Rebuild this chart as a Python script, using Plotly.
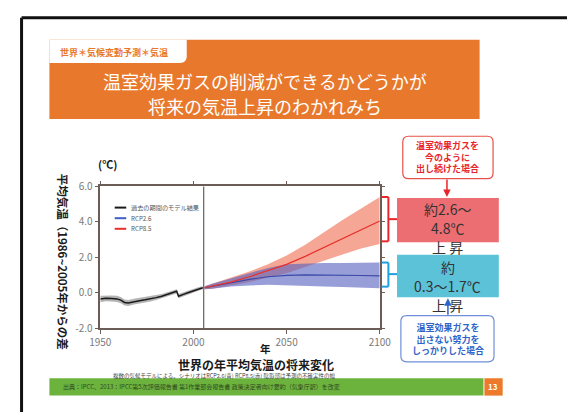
import plotly.graph_objects as go

W, H = 579, 419
def X(p): return p / W
def Y(p): return 1 - p / H

FONT = "Noto Sans CJK JP"

# ---------------- data ----------------
hist_years = [1950, 1953, 1956, 1959, 1961, 1963, 1965, 1968, 1971, 1974, 1977, 1980,
              1983, 1986, 1988, 1990, 1991, 1992, 1993, 1995, 1997, 1999, 2001, 2003, 2005]
hist_mean = [-0.36, -0.32, -0.33, -0.35, -0.42, -0.55, -0.58, -0.50, -0.45, -0.40, -0.35, -0.28,
             -0.20, -0.10, -0.02, 0.05, 0.08, -0.20, -0.15, -0.08, 0.00, 0.08, 0.15, 0.22, 0.28]
hist_hi = [-0.18, -0.15, -0.16, -0.18, -0.25, -0.38, -0.41, -0.34, -0.29, -0.25, -0.20, -0.14,
           -0.07, 0.03, 0.10, 0.17, 0.20, -0.08, -0.03, 0.04, 0.11, 0.19, 0.25, 0.32, 0.37]
hist_lo = [-0.54, -0.49, -0.50, -0.52, -0.59, -0.72, -0.75, -0.66, -0.61, -0.55, -0.50, -0.42,
           -0.33, -0.23, -0.14, -0.07, -0.04, -0.32, -0.27, -0.20, -0.11, -0.03, 0.05, 0.12, 0.19]

proj_years = [2006, 2010, 2020, 2030, 2040, 2050, 2060, 2070, 2080, 2090, 2100]
rcp85_mean = [0.28, 0.36, 0.60, 0.90, 1.25, 1.60, 2.05, 2.55, 3.05, 3.55, 4.05]
rcp85_hi = [0.36, 0.50, 0.85, 1.20, 1.60, 2.10, 2.70, 3.40, 4.10, 4.75, 5.40]
rcp85_lo = [0.20, 0.22, 0.40, 0.60, 0.85, 1.10, 1.45, 1.80, 2.15, 2.50, 2.75]
rcp26_mean = [0.28, 0.36, 0.56, 0.75, 0.90, 0.98, 1.00, 1.00, 0.98, 0.97, 0.95]
rcp26_hi = [0.36, 0.50, 0.80, 1.10, 1.40, 1.60, 1.65, 1.68, 1.68, 1.68, 1.70]
rcp26_lo = [0.20, 0.22, 0.35, 0.40, 0.45, 0.42, 0.38, 0.35, 0.32, 0.30, 0.25]

x_ticks = [1950, 2000, 2050, 2100]
y_ticks = [-2, 0, 2, 4, 6]
y_ticklabels = ["-2.0", "0.0", "2.0", "4.0", "6.0"]

legend_names = ["過去の期間のモデル結果", "RCP2.6", "RCP8.5"]
legend_colors = ["#1a1a1a", "#3d5fc4", "#e8302a"]

# ---------------- figure ----------------
fig = go.Figure()

def band(xs, hi, lo, color):
    fig.add_trace(go.Scatter(x=xs + xs[::-1], y=hi + lo[::-1], fill="toself",
                             fillcolor=color, line=dict(width=0), mode="lines",
                             hoverinfo="skip", showlegend=False))

band(hist_years, hist_hi, hist_lo, "rgba(105,105,105,0.5)")
band(proj_years, rcp85_hi, rcp85_lo, "rgba(240,112,82,0.62)")
band(proj_years, rcp26_hi, rcp26_lo, "rgba(88,98,192,0.62)")

fig.add_trace(go.Scatter(x=hist_years, y=hist_mean, mode="lines",
                         line=dict(color=legend_colors[0], width=1.5), showlegend=False))
fig.add_trace(go.Scatter(x=proj_years, y=rcp26_mean, mode="lines",
                         line=dict(color="#3a4aa8", width=1.2), showlegend=False))
fig.add_trace(go.Scatter(x=proj_years, y=rcp85_mean, mode="lines",
                         line=dict(color="#e8302a", width=1.2), showlegend=False))

axis_col = "#6b5d55"
fig.update_xaxes(domain=[X(93), X(384)], range=[1950, 2100], tickvals=x_ticks,
                 showgrid=False, zeroline=False, showline=True, linecolor=axis_col,
                 linewidth=1.5, mirror="ticks", ticks="outside", ticklen=4,
                 tickcolor=axis_col,
                 tickfont=dict(family=FONT, size=10, color="#7a7a7a"))
fig.update_yaxes(domain=[Y(332), Y(185)], range=[-2, 6], tickvals=y_ticks,
                 ticktext=y_ticklabels, showgrid=False, zeroline=False, showline=True,
                 linecolor=axis_col, linewidth=1.5, mirror="ticks", ticks="outside",
                 ticklen=4, tickcolor=axis_col,
                 tickfont=dict(family=FONT, size=10, color="#7a7a7a"))

shapes = []
annots = []

def rect(x0, y0, x1, y1, fill, line=None, lw=0, layer="below"):
    shapes.append(dict(type="rect", xref="paper", yref="paper", x0=X(x0), x1=X(x1),
                       y0=Y(y1), y1=Y(y0), fillcolor=fill,
                       line=dict(color=line or fill, width=lw), layer=layer))

def rrect(x0, y0, x1, y1, r, fill, line, lw):
    rx, ry = r / W, r / H
    a0, a1, b0, b1 = X(x0), X(x1), Y(y1), Y(y0)
    path = (f"M {a0+rx},{b0} L {a1-rx},{b0} Q {a1},{b0} {a1},{b0+ry} "
            f"L {a1},{b1-ry} Q {a1},{b1} {a1-rx},{b1} L {a0+rx},{b1} "
            f"Q {a0},{b1} {a0},{b1-ry} L {a0},{b0+ry} Q {a0},{b0} {a0+rx},{b0} Z")
    shapes.append(dict(type="path", xref="paper", yref="paper", path=path,
                       fillcolor=fill, line=dict(color=line, width=lw), layer="above"))

def seg(x0, y0, x1, y1, color, w):
    shapes.append(dict(type="line", xref="paper", yref="paper", x0=X(x0), x1=X(x1),
                       y0=Y(y0), y1=Y(y1), line=dict(color=color, width=w), layer="above"))

def txt(x, y, s, size, color, bold=False, xanchor="center", angle=0):
    annots.append(dict(x=X(x), y=Y(y), xref="paper", yref="paper",
                       text=f"<b>{s}</b>" if bold else s, showarrow=False,
                       xanchor=xanchor, yanchor="middle", textangle=angle, borderpad=0,
                       font=dict(family=FONT, size=size, color=color)))

# slide frame
seg(11, 10, 579, 10, "#111111", 3)
seg(11, 10, 11, 419, "#111111", 3)

# title
rect(40, 33, 488, 115, "#e8792c")
tab = f"M {X(40)},{Y(33)} L {X(183)},{Y(33)} L {X(183)},{Y(50)} Q {X(183)},{Y(57)} {X(176)},{Y(57)} L {X(40)},{Y(57)} Z"
shapes.append(dict(type="path", xref="paper", yref="paper", path=tab,
                   fillcolor="white", line=dict(width=0), layer="below"))
txt(50, 46, "世界＊気候変動予測＊気温", 9, "#e8792c", bold=True, xanchor="left")
txt(264, 76, "温室効果ガスの削減ができるかどうかが", 18, "white")
txt(265, 102, "将来の気温上昇のわかれみち", 18, "white")

# chart texts
txt(100, 162, "(℃)", 11, "#1a1a1a", bold=True)
txt(55, 263, "平均気温（1986~2005年からの差", 11.5, "#1a1a1a", bold=True, angle=90)
txt(265, 353, "年", 10.5, "#1a1a1a", bold=True)
txt(255, 370, "世界の年平均気温の将来変化", 12, "#1a1a1a", bold=True)
txt(222, 382, "複数の気候モデルによる。シナリオはRCP2.6(青) RCP8.5(赤) 陰影部は予測の不確実性の幅",
    5.5, "#444444")

# vertical line at 2005
shapes.append(dict(type="line", xref="x", yref="paper", x0=2005.5, x1=2005.5,
                   y0=Y(332), y1=Y(185), line=dict(color=axis_col, width=1.2), layer="above"))

# custom legend
for i, (name, col) in enumerate(zip(legend_names, legend_colors)):
    yy = 207 + i * 11
    seg(108, yy, 120, yy, col, 2)
    txt(124, yy, name, 6.2, "#555555", xanchor="left")

# footer
rect(40, 384, 492, 402, "#6cb33e")
rect(493, 384, 512, 402, "#ec7a2a")
txt(502, 393, "13", 8, "white", bold=True)
txt(53, 393, "出典：IPCC、2013：IPCC第5次評価報告書 第1作業部会報告書 政策決定者向け要約（気象庁訳）を改変",
    6, "#2f4a1e", xanchor="left")

# right annotations
red = "#e8252a"
blue = "#1f9ee0"
rrect(408, 133, 502, 177, 6, "white", "#e8504a", 1.2)
txt(455, 155, "温室効果ガスを<br>今のように<br>出し続けた場合", 9, red, bold=True)
annots.append(dict(x=X(454), y=Y(196), xref="paper", yref="paper", ax=0, ay=-19,
                   text="", showarrow=True, arrowhead=2, arrowsize=1, arrowwidth=1.5,
                   arrowcolor=red))

rect(402, 197, 508, 243, "#ec6e72", layer="above")
for s, yy in [("約2.6～", 208), ("4.8℃", 228), ("上 昇", 248)]:
    txt(455, yy, s, 14, "#333333")

rect(402, 256, 508, 300, "#5bc2d8", layer="above")
for s, yy in [("約", 268.5), ("0.3～1.7℃", 288.5), ("上 昇", 308.5)]:
    txt(455, yy, s, 14, "#333333")

rrect(406, 319, 503, 367, 6, "white", "#6f8fd8", 1.2)
txt(455, 343, "温室効果ガスを<br>出さない努力を<br>しっかりした場合", 9, "#2f63c8", bold=True)
annots.append(dict(x=X(455), y=Y(301), xref="paper", yref="paper", ax=0, ay=18,
                   text="", showarrow=True, arrowhead=2, arrowsize=1, arrowwidth=1.5,
                   arrowcolor="#2f63c8"))

# brackets
for (t, b, m, col) in [(196, 242, 219, red), (264, 289, 276, blue)]:
    seg(386, t, 393, t, col, 2)
    seg(386, b, 393, b, col, 2)
    seg(393, t, 393, b, col, 2)
    seg(393, m, 402, m, col, 2)

fig.update_layout(width=W, height=H, margin=dict(l=0, r=0, t=0, b=0),
                  paper_bgcolor="white", plot_bgcolor="white",
                  shapes=shapes, annotations=annots, showlegend=False,
                  font=dict(family=FONT))

fig.write_html("out.html")
